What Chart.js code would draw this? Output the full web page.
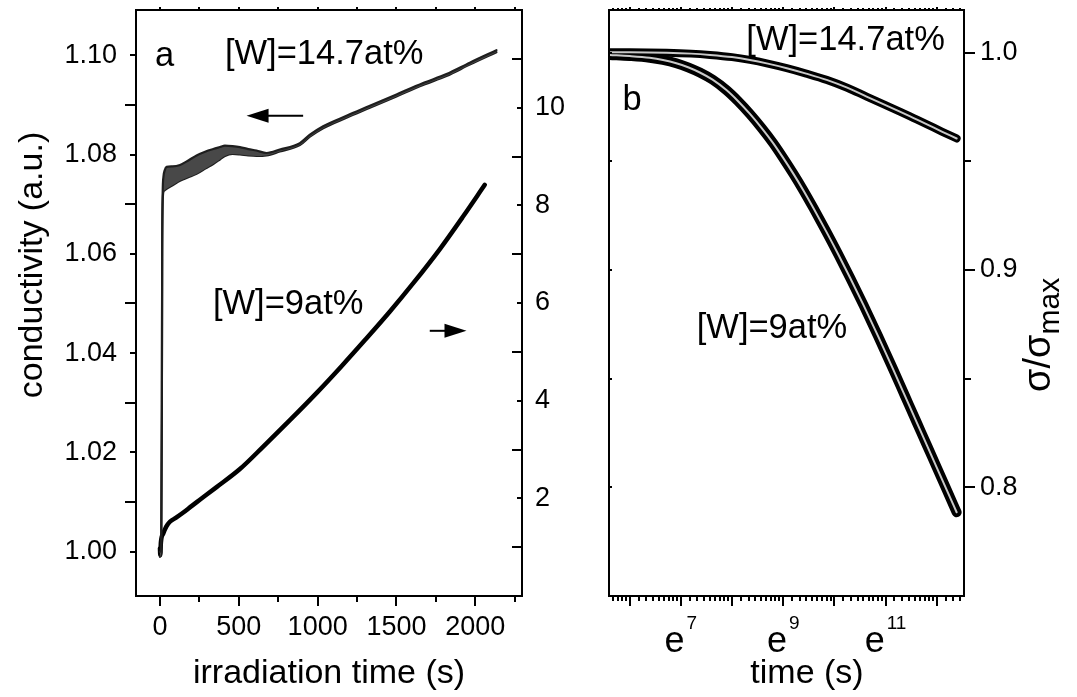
<!DOCTYPE html>
<html lang="en">
<head>
  <meta charset="UTF-8">
  <title>Conductivity under irradiation</title>
  <script src="https://cdn.jsdelivr.net/npm/chart.js"></script>
  <style>
    body { margin: 0; background: #fff; }
    .wrap { position: relative; width: 1077px; height: 697px; }
    #chartA { position: absolute; left: 0; top: 0; }
    #chartB { position: absolute; left: 580px; top: 0; }
  </style>
</head>
<body>
<div class="wrap">
  <canvas id="chartA" width="580" height="697"></canvas>
  <canvas id="chartB" width="497" height="697"></canvas>
</div>

<script>
  // ---- panel a : conductivity vs irradiation time ----
  // [W]=14.7at% (left axis), noisy band given as upper / lower edge
  const w147Time  = [0, 8, 12, 14, 17, 22, 30, 42, 80, 127, 180, 232, 290, 338, 380, 412, 460, 507, 560, 612, 676, 760, 887, 951, 1035, 1183, 1331, 1500, 1669, 1817, 1965, 2134];
  const w147Upper = [1.000, 1.001, 1.030, 1.060, 1.072, 1.0755, 1.0768, 1.0775, 1.0776, 1.0779, 1.0788, 1.0798, 1.0806, 1.0811, 1.0815, 1.0818, 1.0817, 1.0815, 1.0811, 1.0808, 1.0803, 1.0810, 1.0823, 1.0840, 1.0857, 1.0878, 1.0898, 1.0921, 1.0944, 1.0962, 1.0985, 1.1010];
  const w147Lower = [0.999, 1.000, 1.029, 1.059, 1.070, 1.0725, 1.0728, 1.0731, 1.0738, 1.0747, 1.0754, 1.0761, 1.0772, 1.0781, 1.0790, 1.0797, 1.0801, 1.0800, 1.0798, 1.0797, 1.0798, 1.0806, 1.0819, 1.0836, 1.0853, 1.0874, 1.0894, 1.0917, 1.0940, 1.0958, 1.0981, 1.1006];
  // [W]=9at% (right axis)
  const w9Time  = [0, 2, 6, 21, 40, 63, 100, 148, 200, 253, 359, 507, 655, 824, 1000, 1150, 1300, 1457, 1605, 1774, 1922, 2060];
  const w9Value = [0.98, 0.84, 1.10, 1.28, 1.42, 1.52, 1.60, 1.71, 1.84, 1.97, 2.23, 2.60, 3.06, 3.60, 4.18, 4.70, 5.24, 5.82, 6.40, 7.10, 7.77, 8.42];

  // ---- panel b : sigma/sigma_max vs ln(time) ----
  const lnTime147 = [5.6, 6.0, 6.72, 7.2, 7.57, 8.0, 8.35, 8.7, 9.07, 9.45, 9.85, 10.25, 10.63, 11.0, 11.28, 11.55, 11.81, 12.1, 12.39];
  const sigma147  = [1.0003, 1.0003, 1.0001, 0.9997, 0.9991, 0.9981, 0.9968, 0.9951, 0.9930, 0.9905, 0.9876, 0.9840, 0.9799, 0.9760, 0.9730, 0.9700, 0.9671, 0.9638, 0.9606];
  const lnTime9 = [5.61, 6.0, 6.39, 6.65, 6.91, 7.14, 7.37, 7.62, 7.89, 8.11, 8.35, 8.58, 8.80, 8.99, 9.20, 9.39, 9.59, 9.84, 10.07, 10.31, 10.57, 10.85, 11.15, 11.38, 11.61, 11.81, 12.0, 12.20, 12.39];
  const sigma9  = [0.9991, 0.9986, 0.9978, 0.9968, 0.9953, 0.9934, 0.9910, 0.9877, 0.9829, 0.9780, 0.9719, 0.9654, 0.9586, 0.9520, 0.9443, 0.9369, 0.9286, 0.9178, 0.9075, 0.8963, 0.8838, 0.8698, 0.8542, 0.8420, 0.8298, 0.8192, 0.8091, 0.7985, 0.7884];

  // ---- ticks ----
  const timeTicks = [0, 500, 1000, 1500, 2000];
  const timeMinorTicks = [250, 750, 1250, 1750, 2250];
  const condTicks = [1.00, 1.02, 1.04, 1.06, 1.08, 1.10];
  const condMinorTicks = [1.01, 1.03, 1.05, 1.07, 1.09];
  const rightTicks = [2, 4, 6, 8, 10];
  const rightMinorTicks = [1, 3, 5, 7, 9, 11];
  const sigmaTicks = [0.8, 0.9, 1.0];
  const sigmaMinorTicks = [0.85, 0.95];
  const expTicks = [6, 7, 8, 9, 10, 11, 12];
  const expLabels = [7, 9, 11];

  // minor ticks of the natural-log axis
  const expMinorTicks = [];
  for (let n = 5; n <= 12; n++) {
    for (let k = 1; k <= 8; k++) {
      const v = n + Math.log(1 + k * (Math.E - 1) / 9);
      if (v > 5.6 && v < 12.53) expMinorTicks.push(v);
    }
  }

  const FONT = '"Liberation Sans", Arial, sans-serif';
  const NOTE = 34.5;   // size of the in-plot notes
  const TITLE = 34;    // axis titles

  function pts(xs, ys) {
    return xs.map((x, i) => ({ x: x, y: ys[i] }));
  }

  // frame, tick marks and text drawn on top of the chart
  function makeFrame(cfg) {
    return {
      id: 'frame',
      afterDraw(chart) {
        const ctx = chart.ctx;
        const a = chart.chartArea;
        ctx.save();
        ctx.strokeStyle = '#000';
        ctx.fillStyle = '#000';
        ctx.lineWidth = 2;

        cfg.ticks.forEach(t => {
          const sc = chart.scales[t.scale];
          const d = t.out ? t.len : -t.len;
          t.values.forEach(v => {
            const p = Math.round(sc.getPixelForValue(v));
            ctx.beginPath();
            if (t.side === 'bottom') { ctx.moveTo(p, a.bottom); ctx.lineTo(p, a.bottom + d); }
            if (t.side === 'top')    { ctx.moveTo(p, a.top);    ctx.lineTo(p, a.top - d); }
            if (t.side === 'left')   { ctx.moveTo(a.left, p);   ctx.lineTo(a.left - d, p); }
            if (t.side === 'right')  { ctx.moveTo(a.right, p);  ctx.lineTo(a.right + d, p); }
            ctx.stroke();
          });
        });

        ctx.strokeRect(a.left, a.top, a.right - a.left, a.bottom - a.top);

        ctx.textBaseline = 'alphabetic';
        cfg.texts.forEach(t => {
          ctx.font = NOTE + 'px ' + FONT;
          ctx.textAlign = 'left';
          ctx.fillText(t.text, chart.scales.x.getPixelForValue(t.x), chart.scales[t.ys].getPixelForValue(t.y));
        });

        (cfg.arrows || []).forEach(ar => {
          const x1 = chart.scales.x.getPixelForValue(ar.from);
          const x2 = chart.scales.x.getPixelForValue(ar.to);
          const y = chart.scales[ar.ys].getPixelForValue(ar.y);
          const dir = Math.sign(x2 - x1);
          ctx.beginPath();
          ctx.moveTo(x1, y);
          ctx.lineTo(x2 - dir * 18, y);
          ctx.stroke();
          ctx.beginPath();
          ctx.moveTo(x2, y);
          ctx.lineTo(x2 - dir * 22, y - 7);
          ctx.lineTo(x2 - dir * 22, y + 7);
          ctx.closePath();
          ctx.fill();
        });

        if (cfg.extra) cfg.extra(chart, ctx, a);
        ctx.restore();
      }
    };
  }

  function fixed(w, h) {
    return function (s) {
      if (w) s.width = w;
      if (h) s.height = h;
      s.paddingTop = 0; s.paddingBottom = 0; s.paddingLeft = 0; s.paddingRight = 0;
    };
  }

  const tickFont = { family: FONT, size: 27 };

  // ---------- chart a ----------
  new Chart(document.getElementById('chartA'), {
    type: 'line',
    data: {
      datasets: [
        { data: pts(w147Time, w147Upper), yAxisID: 'y', borderColor: '#1e1e1e', borderWidth: 2.2, backgroundColor: '#484848', fill: '+1' },
        { data: pts(w147Time, w147Lower), yAxisID: 'y', borderColor: '#1e1e1e', borderWidth: 2.2, fill: false },
        { data: pts(w9Time, w9Value), yAxisID: 'y2', borderColor: '#000', borderWidth: 4.5, fill: false }
      ]
    },
    options: {
      responsive: false,
      animation: false,
      layout: { padding: { top: 10, left: 0, right: 0, bottom: 0 } },
      elements: {
        point: { radius: 0 },
        line: { cubicInterpolationMode: 'monotone', borderCapStyle: 'round', borderJoinStyle: 'round' }
      },
      plugins: { legend: { display: false }, tooltip: { enabled: false } },
      scales: {
        x: {
          type: 'linear', min: -152, max: 2296,
          afterBuildTicks: s => { s.ticks = timeTicks.map(v => ({ value: v })); },
          afterFit: fixed(0, 101),
          grid: { display: false, drawTicks: true, tickLength: 10 },
          border: { display: false },
          ticks: { color: '#000', font: tickFont, padding: 5, maxRotation: 0, autoSkip: false, callback: v => String(v) }
        },
        y: {
          type: 'linear', position: 'left', min: 0.9911, max: 1.1091,
          afterBuildTicks: s => { s.ticks = condTicks.map(v => ({ value: v })); },
          afterFit: fixed(136, 0),
          grid: { display: false, drawTicks: true, tickLength: 6 },
          border: { display: false },
          ticks: { color: '#000', font: tickFont, padding: 13, autoSkip: false, callback: v => v.toFixed(2) }
        },
        y2: {
          type: 'linear', position: 'right', min: 0, max: 12,
          afterBuildTicks: s => { s.ticks = rightTicks.map(v => ({ value: v })); },
          afterFit: fixed(58, 0),
          grid: { display: false, drawTicks: true, tickLength: 1 },
          border: { display: false },
          ticks: { color: '#000', font: tickFont, padding: 12, autoSkip: false, callback: v => String(v) }
        }
      }
    },
    plugins: [makeFrame({
      ticks: [
        { scale: 'y', side: 'left', values: condTicks, len: 6, out: true },
        { scale: 'y', side: 'left', values: condMinorTicks, len: 11, out: true },
        { scale: 'x', side: 'bottom', values: timeTicks, len: 10, out: true },
        { scale: 'x', side: 'bottom', values: timeMinorTicks, len: 6, out: true },
        { scale: 'x', side: 'top', values: timeTicks.concat(timeMinorTicks), len: 3, out: true },
        { scale: 'y2', side: 'right', values: rightTicks, len: 5, out: false },
        { scale: 'y2', side: 'right', values: rightMinorTicks, len: 10, out: false }
      ],
      texts: [
        { text: 'a', x: -32, y: 1.0979, ys: 'y' },
        { text: '[W]=14.7at%', x: 412, y: 1.0983, ys: 'y' },
        { text: '[W]=9at%', x: 336, y: 1.0479, ys: 'y' }
      ],
      arrows: [
        { from: 908, to: 549, y: 1.0878, ys: 'y' },
        { from: 1711, to: 1944, y: 1.0445, ys: 'y' }
      ],
      extra(chart, ctx, a) {
        ctx.font = TITLE + 'px ' + FONT;
        ctx.textAlign = 'center';
        ctx.fillText('irradiation time (s)', (a.left + a.right) / 2, a.bottom + 87);
        ctx.save();
        ctx.translate(a.left - 94, 265);
        ctx.rotate(-Math.PI / 2);
        ctx.fillText('conductivity (a.u.)', 0, 0);
        ctx.restore();
      }
    })]
  });

  // ---------- chart b ----------
  new Chart(document.getElementById('chartB'), {
    type: 'line',
    data: {
      datasets: [
        { data: pts(lnTime147, sigma147), borderColor: '#c8c8c8', borderWidth: 2, fill: false, order: 0 },
        { data: pts(lnTime9, sigma9), borderColor: '#c8c8c8', borderWidth: 2, fill: false, order: 0 },
        { data: pts(lnTime147, sigma147), borderColor: '#000', borderWidth: 8, fill: false, order: 1 },
        { data: pts(lnTime9, sigma9), borderColor: '#000', borderWidth: 10, fill: false, order: 1 }
      ]
    },
    options: {
      responsive: false,
      animation: false,
      layout: { padding: { top: 10, left: 29, right: 0, bottom: 0 } },
      elements: {
        point: { radius: 0 },
        line: { cubicInterpolationMode: 'monotone', borderCapStyle: 'round', borderJoinStyle: 'round' }
      },
      plugins: { legend: { display: false }, tooltip: { enabled: false } },
      scales: {
        x: {
          type: 'linear', min: 5.595, max: 12.534,
          afterBuildTicks: s => { s.ticks = expTicks.map(v => ({ value: v })); },
          afterFit: fixed(0, 101),
          grid: { display: false },
          border: { display: false },
          ticks: { display: false }
        },
        y: {
          type: 'linear', position: 'right', min: 0.7498, max: 1.0198,
          afterBuildTicks: s => { s.ticks = sigmaTicks.map(v => ({ value: v })); },
          afterFit: fixed(113, 0),
          grid: { display: false, drawTicks: true, tickLength: 11 },
          border: { display: false },
          ticks: { color: '#000', font: tickFont, padding: 5, autoSkip: false, callback: v => v.toFixed(1) }
        }
      }
    },
    plugins: [makeFrame({
      ticks: [
        { scale: 'x', side: 'bottom', values: expTicks, len: 10, out: true },
        { scale: 'x', side: 'bottom', values: expMinorTicks, len: 5, out: true },
        { scale: 'x', side: 'top', values: expTicks, len: 3, out: true },
        { scale: 'x', side: 'top', values: expMinorTicks, len: 2, out: true },
        { scale: 'y', side: 'right', values: sigmaTicks, len: 11, out: true },
        { scale: 'y', side: 'right', values: sigmaMinorTicks, len: 7, out: true },
        { scale: 'y', side: 'left', values: sigmaTicks.concat(sigmaMinorTicks), len: 3, out: false }
      ],
      texts: [
        { text: '[W]=14.7at%', x: 8.28, y: 1.0014, ys: 'y' },
        { text: 'b', x: 5.86, y: 0.9737, ys: 'y' },
        { text: '[W]=9at%', x: 7.31, y: 0.8687, ys: 'y' }
      ],
      extra(chart, ctx, a) {
        const xs = chart.scales.x;
        // e^n tick labels
        expLabels.forEach(n => {
          const p = xs.getPixelForValue(n);
          ctx.font = '36px ' + FONT;
          const we = ctx.measureText('e').width;
          ctx.font = '19px ' + FONT;
          const ws = ctx.measureText(String(n)).width;
          const x0 = p - (we + ws + 2) / 2;
          ctx.textAlign = 'left';
          ctx.font = '36px ' + FONT;
          ctx.fillText('e', x0, a.bottom + 56);
          ctx.font = '19px ' + FONT;
          ctx.fillText(String(n), x0 + we + 2, a.bottom + 33);
        });
        ctx.font = TITLE + 'px ' + FONT;
        ctx.textAlign = 'center';
        ctx.fillText('time (s)', a.left + 198, a.bottom + 87);
        // sigma / sigma_max, rotated
        ctx.save();
        ctx.translate(a.right + 86, 392);
        ctx.rotate(-Math.PI / 2);
        ctx.textAlign = 'left';
        ctx.font = '38px ' + FONT;
        const w1 = ctx.measureText('σ/σ').width;
        ctx.fillText('σ/σ', 0, 0);
        ctx.font = '30px ' + FONT;
        ctx.fillText('max', w1, 9);
        ctx.restore();
      }
    })]
  });
</script>
</body>
</html>
